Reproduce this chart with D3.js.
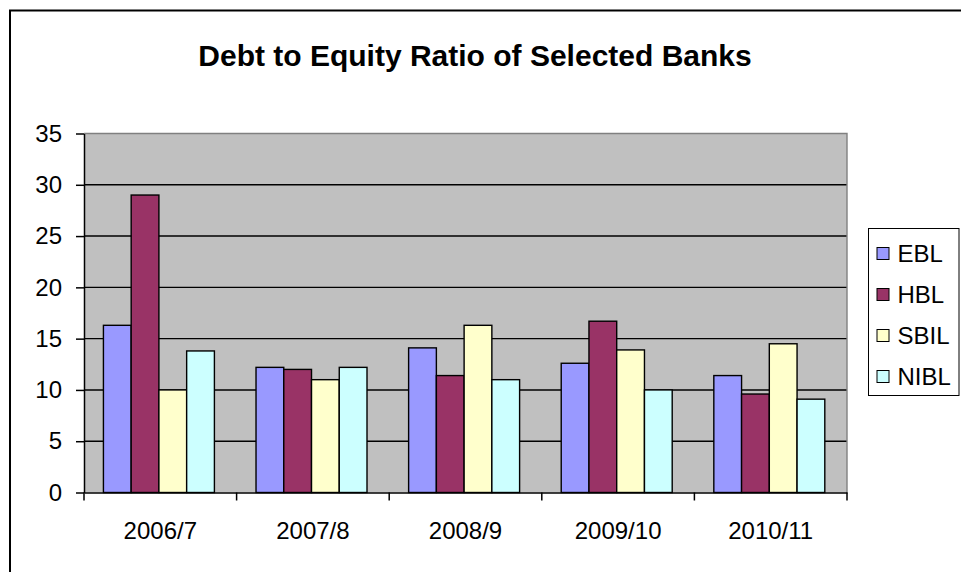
<!DOCTYPE html>
<html>
<head>
<meta charset="utf-8">
<script src="https://cdn.jsdelivr.net/npm/d3@7"></script>
<style>
  body { margin: 0; background: #fff; }
  svg { display: block; font-family: Arial, "Liberation Sans", sans-serif; }
</style>
</head>
<body>
<script>
// data
const years = ['2006/7', '2007/8', '2008/9', '2009/10', '2010/11']
const banks = ['EBL', 'HBL', 'SBIL', 'NIBL']
const ebl  = [16.3, 12.2, 14.1, 12.6, 11.4]
const hbl  = [29.0, 12.0, 11.4, 16.7, 9.6]
const sbil = [10.0, 11.0, 16.3, 13.9, 14.5]
const nibl = [13.8, 12.2, 11.0, 10.0, 9.1]
const yTicks = [0, 5, 10, 15, 20, 25, 30, 35]

const colors = ['#9999FF', '#993366', '#FFFFCC', '#CCFFFF']
const seriesValues = [ebl, hbl, sbil, nibl]

const width = 961
const height = 572
const plot = {left: 84, right: 847, top: 133.5, bottom: 492.5}
const font = 'Arial, "Liberation Sans", sans-serif'

const svg = d3.select('body').append('svg')
  .attr('width', width)
  .attr('height', height)

// outer chart border (runs off right/bottom edge)
svg.append('rect')
  .attr('x', 10).attr('y', 10.5)
  .attr('width', 1000).attr('height', 1000)
  .attr('fill', '#fff')
  .attr('stroke', '#000')
  .attr('stroke-width', 2)

svg.append('text')
  .attr('x', 475).attr('y', 66)
  .attr('text-anchor', 'middle')
  .attr('font-size', 30)
  .attr('font-weight', 'bold')
  .text('Debt to Equity Ratio of Selected Banks')

//=============SCALES=============
const y = d3.scaleLinear().domain([0, 35]).range([plot.bottom, plot.top])
const x0 = d3.scaleBand().domain(years).range([plot.left, plot.right])
const bw = x0.bandwidth() / 5.5
const x1 = d3.scaleBand().domain(banks)
  .range([bw * 0.7, x0.bandwidth() - bw * 0.8])

//=============PLOT AREA=============
svg.append('rect')
  .attr('x', plot.left).attr('y', plot.top)
  .attr('width', plot.right - plot.left)
  .attr('height', plot.bottom - plot.top)
  .attr('fill', '#C0C0C0')

svg.append('g')
  .selectAll('line')
  .data(yTicks.filter(t => t > 0 && t < 35))
  .enter().append('line')
  .attr('x1', plot.left).attr('x2', plot.right)
  .attr('y1', d => y(d)).attr('y2', d => y(d))
  .attr('stroke', '#000')
  .attr('stroke-width', 1.4)

// grey top and right frame
svg.append('path')
  .attr('d', `M${plot.left},${plot.top}H${plot.right}V${plot.bottom}`)
  .attr('fill', 'none')
  .attr('stroke', '#808080')
  .attr('stroke-width', 1.4)

//=============BARS=============
const rows = []
years.forEach((yr, i) => {
  banks.forEach((b, j) => {
    rows.push({year: yr, bank: b, value: seriesValues[j][i], color: colors[j]})
  })
})

svg.append('g')
  .selectAll('rect')
  .data(rows)
  .enter().append('rect')
  .attr('x', d => x0(d.year) + x1(d.bank))
  .attr('y', d => y(d.value))
  .attr('width', x1.bandwidth())
  .attr('height', d => y(0) - y(d.value))
  .attr('fill', d => d.color)
  .attr('stroke', '#000')
  .attr('stroke-width', 1.4)

//=============AXES=============
const yAxis = svg.append('g')
  .attr('transform', `translate(${plot.left},0)`)
  .call(d3.axisLeft(y).tickValues(yTicks).tickSize(8).tickPadding(14).tickSizeOuter(0))
yAxis.select('.domain').attr('stroke-width', 1.5)
yAxis.selectAll('.tick line').attr('stroke-width', 1.5)
yAxis.selectAll('text')
  .attr('font-size', 24)
  .attr('fill', '#000')
  .attr('font-family', font)

const xAxis = svg.append('g')
  .attr('transform', `translate(0,${plot.bottom})`)
  .call(d3.axisBottom(x0).tickSize(0).tickPadding(29).tickSizeOuter(0))
xAxis.select('.domain').attr('stroke-width', 1.5)
xAxis.selectAll('text')
  .attr('font-size', 24)
  .attr('fill', '#000')
  .attr('font-family', font)

// category boundary ticks
const bounds = years.map(d => x0(d)).concat([plot.right])
xAxis.selectAll('.bound')
  .data(bounds)
  .enter().append('line')
  .attr('class', 'bound')
  .attr('x1', d => d).attr('x2', d => d)
  .attr('y1', 0).attr('y2', 8)
  .attr('stroke', '#000')
  .attr('stroke-width', 1.5)

//=============LEGEND=============
const legend = svg.append('g')
  .attr('transform', 'translate(868.5,228.5)')

legend.append('rect')
  .attr('width', 90.5).attr('height', 167)
  .attr('fill', '#fff')
  .attr('stroke', '#000')
  .attr('stroke-width', 1)

const items = legend.selectAll('.item')
  .data(banks)
  .enter().append('g')
  .attr('transform', (d, i) => `translate(0,${25 + i * 41})`)

items.append('rect')
  .attr('x', 8.5).attr('y', -6)
  .attr('width', 12).attr('height', 12)
  .attr('fill', (d, i) => colors[i])
  .attr('stroke', '#000')
  .attr('stroke-width', 1)

items.append('text')
  .attr('x', 29).attr('y', 8.5)
  .attr('font-size', 24)
  .text(d => d)
</script>
</body>
</html>
